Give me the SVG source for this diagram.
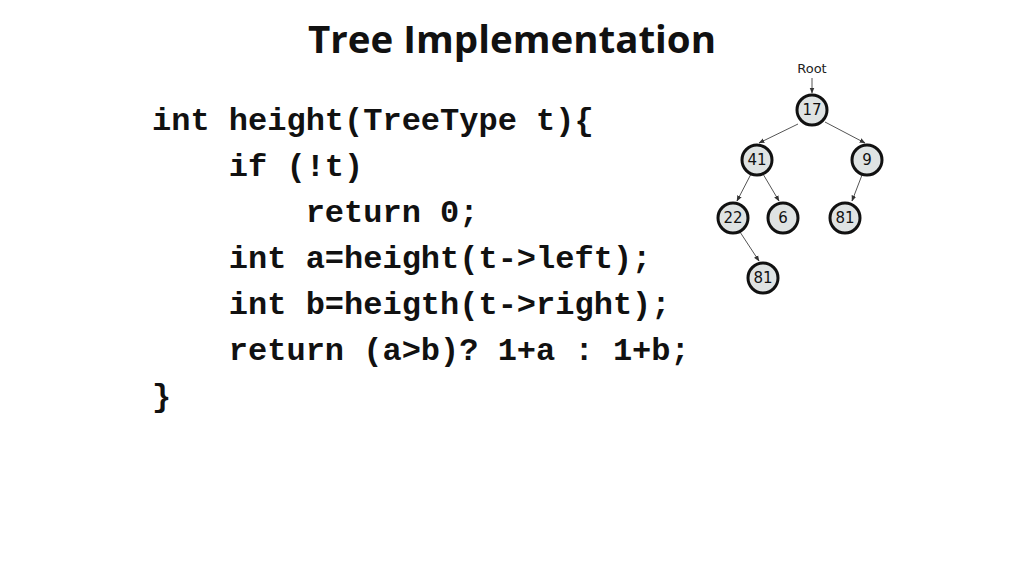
<svg xmlns="http://www.w3.org/2000/svg" width="1024" height="576" viewBox="0 0 1024 576">
<style>
.code{font-family:"Liberation Mono",monospace;font-weight:bold;font-size:32px;fill:#111}
.n circle{fill:#dfe3e3;stroke:#111;stroke-width:3}
.n text{font-family:"DejaVu Sans",sans-serif;font-size:15px;fill:#111;text-anchor:middle}
.e line{stroke:#555;stroke-width:1;marker-end:url(#a)}
</style>
<defs><marker id="a" viewBox="0 0 10 10" refX="9" refY="5" markerWidth="6" markerHeight="6" orient="auto"><path d="M0,1L10,5L0,9z" fill="#333"/></marker></defs>
<rect width="1024" height="576" fill="#fff"/>
<text x="512" y="53" text-anchor="middle" font-family="Open Sans,sans-serif" font-weight="bold" font-size="38" textLength="408" lengthAdjust="spacingAndGlyphs" fill="#111">Tree Implementation</text>
<g id="code" class="code">
<text x="152" y="130" xml:space="preserve">int height(TreeType t){</text>
<text x="152" y="176" xml:space="preserve">    if (!t)</text>
<text x="152" y="222" xml:space="preserve">        return 0;</text>
<text x="152" y="268" xml:space="preserve">    int a=height(t-&gt;left);</text>
<text x="152" y="314" xml:space="preserve">    int b=heigth(t-&gt;right);</text>
<text x="152" y="360" xml:space="preserve">    return (a&gt;b)? 1+a : 1+b;</text>
<text x="152" y="406" xml:space="preserve">}</text>
</g>
<text x="812" y="73" text-anchor="middle" font-family="DejaVu Sans,sans-serif" font-size="13" fill="#222">Root</text>
<g class="e" id="connectors">
<line x1="812" y1="78" x2="812" y2="93"/>
<line x1="798" y1="124" x2="759" y2="143"/>
<line x1="825" y1="122" x2="865" y2="143"/>
<line x1="751" y1="174" x2="737" y2="201"/>
<line x1="763" y1="174" x2="779" y2="201"/>
<line x1="862" y1="175" x2="852" y2="201"/>
<line x1="740" y1="232" x2="759" y2="261"/>
</g>
<g id="n17" class="n"><circle cx="812" cy="110" r="15"/><text x="812" y="115">17</text></g>
<g id="n41" class="n"><circle cx="757" cy="160" r="15"/><text x="757" y="165">41</text></g>
<g id="n9" class="n"><circle cx="867" cy="160" r="15"/><text x="867" y="165">9</text></g>
<g id="n22" class="n"><circle cx="733" cy="218" r="15"/><text x="733" y="223">22</text></g>
<g id="n6" class="n"><circle cx="783" cy="218" r="15"/><text x="783" y="223">6</text></g>
<g id="n81a" class="n"><circle cx="845" cy="218" r="15"/><text x="845" y="223">81</text></g>
<g id="n81b" class="n"><circle cx="763" cy="278" r="15"/><text x="763" y="283">81</text></g>
</svg>
